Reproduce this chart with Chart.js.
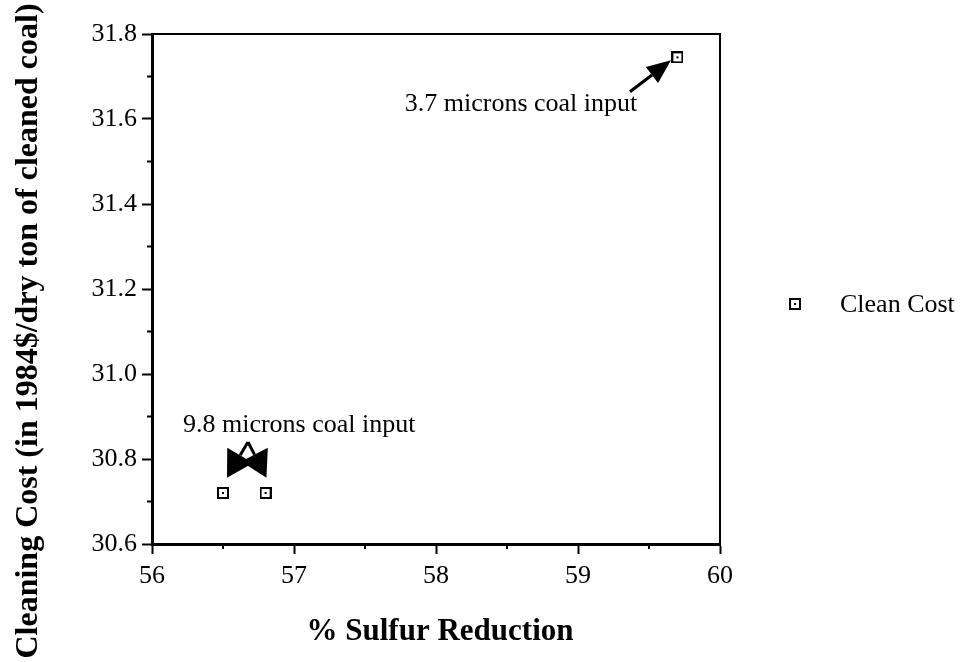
<!DOCTYPE html>
<html>
<head>
<meta charset="utf-8">
<script src="https://cdn.jsdelivr.net/npm/chart.js@4/dist/chart.umd.min.js"></script>
<style>
  html, body { margin: 0; padding: 0; background: #fff; }
  #wrap { width: 962px; height: 662px; }
</style>
</head>
<body>
<div id="wrap"><canvas id="chart"></canvas></div>
<script>
// data
const sulfurReduction = [56.5, 56.8, 59.7];
const cleaningCost = [30.72, 30.72, 31.745];
const seriesName = 'Clean Cost';

const xTicks = [56, 57, 58, 59, 60];
const yTicks = [30.6, 30.8, 31.0, 31.2, 31.4, 31.6, 31.8];
const xMinorTicks = [56.5, 57.5, 58.5, 59.5];
const yMinorTicks = [30.7, 30.9, 31.1, 31.3, 31.5, 31.7];

// annotations, in data units
const notes = [
  { text: '3.7 microns coal input', x: 57.78, y: 31.619 },
  { text: '9.8 microns coal input', x: 56.218, y: 30.864 },
];
const arrows = [
  { from: [59.366, 31.664], to: [59.655, 31.738] },
  { from: [56.676, 30.840], to: [56.528, 30.756] },
  { from: [56.676, 30.840], to: [56.806, 30.756] },
];

const SERIF = '"Liberation Serif", "Times New Roman", serif';

/* ── square marker with a dot in the middle ───── */
function makeMarker() {
  const c = document.createElement('canvas');
  c.width = 12; c.height = 12;
  const g = c.getContext('2d');
  g.strokeStyle = '#000';
  g.lineWidth = 2;
  g.strokeRect(1, 1, 10, 10);
  g.fillStyle = '#000';
  g.fillRect(5, 5, 2, 2);
  return c;
}
const marker = makeMarker();

function drawArrow(g, x1, y1, x2, y2, headLen, headHalf) {
  const a = Math.atan2(y2 - y1, x2 - x1);
  const bx = x2 - headLen * Math.cos(a), by = y2 - headLen * Math.sin(a);
  g.beginPath();
  g.moveTo(x1, y1);
  g.lineTo(bx, by);
  g.stroke();
  g.beginPath();
  g.moveTo(x2, y2);
  g.lineTo(bx + headHalf * Math.sin(a), by - headHalf * Math.cos(a));
  g.lineTo(bx - headHalf * Math.sin(a), by + headHalf * Math.cos(a));
  g.closePath();
  g.fill();
}

/* ── frame, minor ticks, titles, notes, legend ── */
const extras = {
  id: 'extras',
  afterDraw(chart) {
    const g = chart.ctx;
    const { left, right, top, bottom } = chart.chartArea;
    const xs = chart.scales.x, ys = chart.scales.y;
    g.save();
    g.strokeStyle = '#000';
    g.fillStyle = '#000';

    // thin top and right frame
    g.lineWidth = 2;
    g.beginPath();
    g.moveTo(left, top); g.lineTo(right, top); g.lineTo(right, bottom);
    g.stroke();

    // minor ticks
    g.lineWidth = 2;
    xMinorTicks.forEach(v => {
      const px = xs.getPixelForValue(v);
      g.beginPath(); g.moveTo(px, bottom); g.lineTo(px, bottom + 5); g.stroke();
    });
    yMinorTicks.forEach(v => {
      const py = ys.getPixelForValue(v);
      g.beginPath(); g.moveTo(left, py); g.lineTo(left - 5, py); g.stroke();
    });

    // axis titles
    g.font = 'bold 31px ' + SERIF;
    g.textAlign = 'center';
    g.textBaseline = 'alphabetic';
    g.fillText('% Sulfur Reduction', 440, 640);
    g.save();
    g.translate(37, 331);
    g.rotate(-Math.PI / 2);
    g.font = 'bold 32px ' + SERIF;
    g.fillText('Cleaning Cost (in 1984$/dry ton of cleaned coal)', 0, 0);
    g.restore();

    // notes
    g.font = '26px ' + SERIF;
    g.textAlign = 'left';
    notes.forEach(n => g.fillText(n.text, xs.getPixelForValue(n.x), ys.getPixelForValue(n.y)));

    g.lineWidth = 3;
    arrows.forEach((a, i) => drawArrow(g,
      xs.getPixelForValue(a.from[0]), ys.getPixelForValue(a.from[1]),
      xs.getPixelForValue(a.to[0]), ys.getPixelForValue(a.to[1]),
      i === 0 ? 24 : 26, i === 0 ? 10 : 15));

    // legend
    g.drawImage(marker, 795 - 6, 304 - 6);
    g.fillText(seriesName, 840, 312);
    g.restore();
  }
};

new Chart(document.getElementById('chart'), {
  type: 'scatter',
  data: {
    datasets: [{
      label: seriesName,
      data: sulfurReduction.map((x, i) => ({ x, y: cleaningCost[i] })),
      pointStyle: marker,
      pointRadius: 6,
      pointHoverRadius: 6,
      showLine: false,
    }],
  },
  options: {
    responsive: true,
    maintainAspectRatio: false,
    animation: false,
    layout: { padding: { top: 34, right: 242, left: 0, bottom: 0 } },
    plugins: { legend: { display: false }, tooltip: { enabled: false } },
    scales: {
      x: {
        type: 'linear',
        min: xTicks[0],
        max: xTicks[xTicks.length - 1],
        afterBuildTicks: s => { s.ticks = xTicks.map(v => ({ value: v })); },
        afterFit: s => { s.height = 118; },
        grid: { drawOnChartArea: false, drawTicks: true, tickLength: 10, tickWidth: 2, color: '#000' },
        border: { color: '#000', width: 3 },
        ticks: { color: '#000', padding: 7, font: { family: SERIF, size: 26 }, callback: v => String(v) },
      },
      y: {
        type: 'linear',
        min: yTicks[0],
        max: yTicks[yTicks.length - 1],
        afterBuildTicks: s => { s.ticks = yTicks.map(v => ({ value: v })); },
        afterFit: s => { s.width = 152; },
        grid: { drawOnChartArea: false, drawTicks: true, tickLength: 10, tickWidth: 2, color: '#000' },
        border: { color: '#000', width: 3 },
        ticks: { color: '#000', padding: 5, font: { family: SERIF, size: 26 }, callback: v => v.toFixed(1) },
      },
    },
  },
  plugins: [extras],
});
</script>
</body>
</html>
